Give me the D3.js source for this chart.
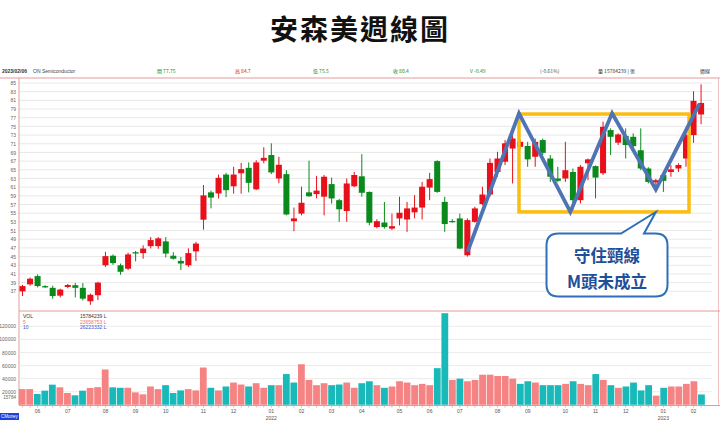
<!DOCTYPE html>
<html><head><meta charset="utf-8">
<script src="https://cdn.jsdelivr.net/npm/d3@7"></script>
<style>body{margin:0;background:#fff}svg{display:block}</style>
</head><body><svg id="c" width="720" height="422"></svg>
<script>
// ---- data ----
const firstWeek = "2021-05-21"; // Friday of first weekly bar
const opens  = [37.0,38.6,40.5,38.2,37.8,36.0,38.0,38.4,37.8,34.7,36.1,43.0,45.2,43.0,42.2,46.0,45.8,47.4,47.4,48.5,45.2,44.0,43.0,46.2,53.5,59.8,59.55,63.9,61.2,64.2,65.45,60.5,67.1,68.4,63.0,64.0,53.15,54.9,59.8,59.4,58.8,61.7,58.0,55.5,61.2,63.5,59.9,51.8,52.85,51.45,53.8,53.55,55.2,56.3,60.9,67.0,57.6,53.2,53.8,45.3,53.0,57.1,59.3,64.5,66.85,69.9,70.3,70.5,68.0,71.85,67.6,63.0,63.0,64.5,58.0,66.5,65.85,64.2,74.15,71.25,72.8,72.6,69.5,65.3,62.1,63.8,64.5,65.3,67.6,73.0,77.75];
const highs  = [38.5,40.2,40.9,38.4,38.3,37.6,38.7,38.9,38.9,36.5,39.2,46.1,45.5,43.4,45.9,46.3,47.6,49.5,49.5,49.5,46.0,44.9,46.9,48.4,61.5,60.2,63.9,64.3,65.7,66.6,66.7,67.2,70.2,71.1,68.0,64.9,56.3,61.1,67.1,63.6,63.8,63.2,58.3,63.0,64.5,68.6,60.0,53.6,57.6,54.9,58.8,57.6,59.15,62.2,64.3,67.2,58.8,53.6,54.9,53.8,56.5,61.1,67.6,69.15,71.85,73.0,72.0,71.45,72.2,72.2,68.4,65.7,71.45,65.3,66.1,67.6,66.0,76.1,74.55,73.4,74.55,73.4,74.55,65.6,62.9,64.5,66.1,66.5,74.15,83.1,84.7];
const lows   = [35.9,38.3,37.9,37.8,35.3,35.6,37.7,35.6,34.9,33.9,35.0,42.6,43.1,40.8,41.9,43.9,44.5,46.9,46.8,44.8,44.3,41.9,42.6,44.0,51.2,56.1,58.4,58.7,59.5,59.5,59.8,60.3,66.5,64.0,61.9,54.5,50.85,54.5,58.8,58.4,54.5,57.2,53.0,53.0,61.0,58.8,52.2,51.5,51.45,51.1,52.2,50.7,53.8,53.55,58.0,59.7,50.7,52.8,46.7,45.0,52.8,56.8,58.8,63.4,66.1,61.85,69.8,65.7,65.7,68.4,62.2,62.2,62.2,55.3,57.25,62.6,58.4,63.8,68.4,70.7,67.6,69.5,64.9,61.85,60.3,59.9,63.4,64.5,65.7,71.2,75.5];
const closes = [38.2,39.9,38.2,37.9,35.9,37.4,38.45,37.8,35.3,36.2,39.0,45.1,43.5,41.5,45.5,45.7,46.85,48.8,49.2,45.7,44.5,43.4,45.8,48.0,59.1,58.6,63.15,60.3,63.9,65.15,62.0,66.7,67.75,64.4,66.15,54.7,53.8,57.4,58.9,60.2,63.4,58.4,55.9,61.85,63.8,59.7,52.8,53.15,51.8,52.0,55.1,56.1,56.3,61.1,62.85,59.9,52.5,53.1,46.85,53.4,56.1,59.3,66.6,67.6,71.1,72.2,71.45,67.4,71.45,68.9,63.4,62.45,64.9,58.0,65.7,67.4,63.2,74.9,72.6,73.15,70.7,70.45,65.3,62.2,62.6,62.45,65.1,66.1,73.0,80.89,80.4];
const volumes = [24000,24000,16500,21600,30800,26700,18000,14500,21600,25700,27000,54000,26700,26000,26000,19000,16000,28000,24000,30000,18000,22000,24000,22000,57000,26000,22000,28000,34000,31000,28000,33000,26000,30000,30000,47000,34000,62000,38000,30000,33000,30000,31000,34000,26000,33000,36000,30000,26000,28000,36000,34000,30000,32000,30000,56000,140000,38000,40000,36000,38000,46000,46000,44000,44000,40000,32000,36000,34000,30000,30000,30000,32000,36000,32000,30000,47000,38000,30000,26000,28000,34000,22000,30000,14000,26000,28000,28000,32000,36000,15784];
const priceTicks = [37,39,41,43,45,47,49,51,53,55,57,59,61,63,65,67,69,71,73,75,77,79,81,83,85];
const volumeTicks = [20000,40000,60000,80000,100000,120000];
const mPatternIdx   = [59.1, 65.85, 72.66, 78.2, 84.0, 89.7];
const mPatternPrice = [46.46, 78.0, 55.3, 78.0, 60.47, 79.9];
const boxIdx = [65.85, 88.4];
const boxPrice = [55.3, 77.85];
const infoItems = [
  {t:"開 77.75", c:"#1a8a1a", x:157},{t:"高 84.7", c:"#e01010", x:235},{t:"低 75.5", c:"#1a8a1a", x:313},
  {t:"收 80.4", c:"#1a8a1a", x:393},{t:"V -0.49", c:"#1a8a1a", x:470},{t:"(-0.61%)", c:"#555", x:540},
  {t:"量 15784239 | 張", c:"#333", x:598},{t:"週線", c:"#333", x:700}];

// ---- build ----
const svg = d3.select("#c");
const parse = d3.timeParse("%Y-%m-%d");
const d0 = parse(firstWeek);
const dates = opens.map((_, i) => d3.timeDay.offset(d0, 7 * i));
const data = opens.map((o, i) => ({i, date: dates[i], o, h: highs[i], l: lows[i], c: closes[i], v: volumes[i]}));

const L = 19, R = 712, PT = 78, PB = 310, VT = 311, VB = 405;
const x = d3.scaleBand().domain(d3.range(data.length)).range([18, 18 + data.length * 7.556]).padding(0.2);
const xv = x.copy().padding(0.1);
const xc = i => x(i) + x.bandwidth() / 2;
const xi = d3.scaleLinear().domain([0, data.length - 1]).range([xc(0), xc(data.length - 1)]);
const y = d3.scaleLinear().domain([37, 85]).range([291.3, 83]);
const yv = d3.scaleLinear().domain([0, 120000]).range([404.8, 326.3]);

const small = "Liberation Sans, Arial, sans-serif";

// Title
svg.append("text").attr("x", 360).attr("y", 40).attr("text-anchor", "middle")
  .attr("font-family", "Noto Sans CJK TC").attr("font-weight", 700).attr("font-size", 28)
  .attr("letter-spacing", 2).attr("fill", "#111").text("安森美週線圖");

// info bar
svg.append("text").attr("x", 2).attr("y", 73).attr("font-family", small).attr("font-size", 5).attr("font-weight", 700).attr("fill", "#333").text("2023/02/06");
svg.append("text").attr("x", 33).attr("y", 73).attr("font-family", small).attr("font-size", 5).attr("fill", "#444").text("ON Semiconductor");
svg.selectAll(".info").data(infoItems).join("text").attr("x", d => d.x).attr("y", 73)
  .attr("font-family", "Noto Sans CJK TC").attr("font-size", 5).attr("fill", d => d.c).text(d => d.t);

// price grid
const gP = svg.append("g");
gP.selectAll("line").data(priceTicks).join("line")
  .attr("x1", L).attr("x2", R).attr("y1", d => y(d)).attr("y2", d => y(d))
  .attr("stroke", "#e2e2e2").attr("stroke-width", 0.8);
const yAxis = d3.axisLeft(y).tickValues(priceTicks).tickSize(0).tickPadding(3);
const ya = svg.append("g").attr("transform", `translate(${L},0)`).call(yAxis);
ya.select(".domain").remove();
ya.selectAll("text").attr("font-family", small).attr("font-size", 5).attr("fill", "#666");

// frames
svg.append("line").attr("x1", 0).attr("x2", 720).attr("y1", PT).attr("y2", PT).attr("stroke", "#e59a9a").attr("stroke-width", 1);
svg.append("line").attr("x1", L).attr("x2", L).attr("y1", PT).attr("y2", VB).attr("stroke", "#e59a9a").attr("stroke-width", 1);
svg.append("line").attr("x1", 718.5).attr("x2", 718.5).attr("y1", PT).attr("y2", VB).attr("stroke", "#f0c0c0").attr("stroke-width", 1);
svg.append("line").attr("x1", L).attr("x2", 720).attr("y1", VT).attr("y2", VT).attr("stroke", "#e59a9a").attr("stroke-width", 1);
svg.append("line").attr("x1", L).attr("x2", 720).attr("y1", VB + 0.5).attr("y2", VB + 0.5).attr("stroke", "#e59a9a").attr("stroke-width", 1);

// candles
const up = "#e8101a", dn = "#0b8a1c";
const gC = svg.append("g");
gC.selectAll("line").data(data).join("line")
  .attr("x1", d => xc(d.i)).attr("x2", d => xc(d.i))
  .attr("y1", d => y(d.h)).attr("y2", d => y(d.l))
  .attr("stroke", d => d.c >= d.o ? up : dn).attr("stroke-width", 1);
gC.selectAll("rect").data(data).join("rect")
  .attr("x", d => x(d.i)).attr("width", x.bandwidth())
  .attr("y", d => y(Math.max(d.o, d.c)))
  .attr("height", d => Math.max(1.2, Math.abs(y(d.o) - y(d.c))))
  .attr("fill", d => d.c >= d.o ? up : dn);

// volume grid & axis
const gV = svg.append("g");
gV.selectAll("line").data(volumeTicks).join("line")
  .attr("x1", L).attr("x2", R).attr("y1", d => yv(d)).attr("y2", d => yv(d))
  .attr("stroke", "#e6e6e6").attr("stroke-width", 0.8);
const va = svg.append("g").attr("transform", `translate(${L},0)`).call(d3.axisLeft(yv).tickValues(volumeTicks).tickSize(0).tickPadding(3).tickFormat(d3.format("d")));
va.select(".domain").remove();
va.selectAll("text").attr("font-family", small).attr("font-size", 5).attr("fill", "#666");
svg.append("text").attr("x", 16).attr("y", 398.6).attr("text-anchor", "end").attr("font-family", small).attr("font-size", 4.6).attr("fill", "#666").text("15784");

// volume bars: colour by close vs previous close
const vUp = "#f58383", vDn = "#19b9b9";
svg.append("g").selectAll("rect").data(data).join("rect")
  .attr("x", d => xv(d.i)).attr("width", xv.bandwidth())
  .attr("y", d => yv(d.v)).attr("height", d => yv(0) - yv(d.v))
  .attr("fill", d => (d.i === 0 ? d.c >= d.o : d.c >= data[d.i - 1].c) ? vUp : vDn);

// volume legend
const leg = [["VOL", "15784239 L", "#333"], ["5", "23658753 L", "#f07070"], ["10", "26223332 L", "#3d55c8"]];
leg.forEach((r, k) => {
  svg.append("text").attr("x", 23).attr("y", 318 + k * 5.5).attr("font-family", small).attr("font-size", 5).attr("fill", r[2]).text(r[0]);
  svg.append("text").attr("x", 80).attr("y", 318 + k * 5.5).attr("font-family", small).attr("font-size", 5).attr("fill", r[2]).text(r[1]);
});

// x ticks
svg.append("g").selectAll("line").data(data).join("line")
  .attr("x1", d => xc(d.i)).attr("x2", d => xc(d.i)).attr("y1", VB).attr("y2", VB + 2.5)
  .attr("stroke", "#e59a9a").attr("stroke-width", 0.8);
const monthTicks = data.filter(d => d.i > 0 && d.date.getMonth() !== data[d.i - 1].date.getMonth());
svg.append("g").selectAll("text").data(monthTicks).join("text")
  .attr("x", d => xc(d.i)).attr("y", 413).attr("text-anchor", "middle")
  .attr("font-family", small).attr("font-size", 5).attr("fill", "#555")
  .text(d => d3.timeFormat("%m")(d.date));
svg.append("g").selectAll("text").data(monthTicks.filter(d => d.date.getMonth() === 0)).join("text")
  .attr("x", d => xc(d.i)).attr("y", 419.5).attr("text-anchor", "middle")
  .attr("font-family", small).attr("font-size", 5).attr("fill", "#555")
  .text(d => d3.timeFormat("%Y")(d.date));
svg.append("rect").attr("x", 0).attr("y", 413).attr("width", 19).attr("height", 7).attr("fill", "#2040d8");
svg.append("text").attr("x", 9.5).attr("y", 418.3).attr("text-anchor", "middle").attr("font-family", small).attr("font-size", 4.5).attr("fill", "#fff").text("CMoney");

// box annotation
svg.append("rect")
  .attr("x", xi(boxIdx[0])).attr("y", y(boxPrice[1]))
  .attr("width", xi(boxIdx[1]) - xi(boxIdx[0])).attr("height", y(boxPrice[0]) - y(boxPrice[1]))
  .attr("fill", "none").attr("stroke", "#fbbd12").attr("stroke-width", 3.5);

// M pattern line
const mPts = mPatternIdx.map((v, k) => [xi(v), y(mPatternPrice[k])]);
svg.append("path").attr("d", d3.line()(mPts)).attr("fill", "none")
  .attr("stroke", "#4f74b3").attr("stroke-width", 3.8).attr("stroke-linejoin", "miter").attr("stroke-linecap", "round");

// callout
const cx0 = 546.5, cy0 = 233.5, cx1 = 667.5, cy1 = 296.5, r = 12;
const tailA = 621, tailB = 644, tip = [xi(84.0), 212];
const p = d3.path();
p.moveTo(cx0 + r, cy0);
p.lineTo(tailA, cy0); p.lineTo(tip[0], tip[1]); p.lineTo(tailB, cy0);
p.lineTo(cx1 - r, cy0); p.quadraticCurveTo(cx1, cy0, cx1, cy0 + r);
p.lineTo(cx1, cy1 - r); p.quadraticCurveTo(cx1, cy1, cx1 - r, cy1);
p.lineTo(cx0 + r, cy1); p.quadraticCurveTo(cx0, cy1, cx0, cy1 - r);
p.lineTo(cx0, cy0 + r); p.quadraticCurveTo(cx0, cy0, cx0 + r, cy0);
p.closePath();
svg.append("path").attr("d", p.toString()).attr("fill", "#fff").attr("stroke", "#2e6fb8").attr("stroke-width", 2);
svg.append("text").attr("x", 607).attr("y", 262).attr("text-anchor", "middle")
  .attr("font-family", "Noto Sans CJK TC").attr("font-weight", 700).attr("font-size", 16.5).attr("fill", "#1f4f99").text("守住頸線");
svg.append("text").attr("x", 607).attr("y", 288).attr("text-anchor", "middle")
  .attr("font-family", "Noto Sans CJK TC").attr("font-weight", 700).attr("font-size", 16.5).attr("fill", "#1f4f99").text("M頭未成立");
</script></body></html>
